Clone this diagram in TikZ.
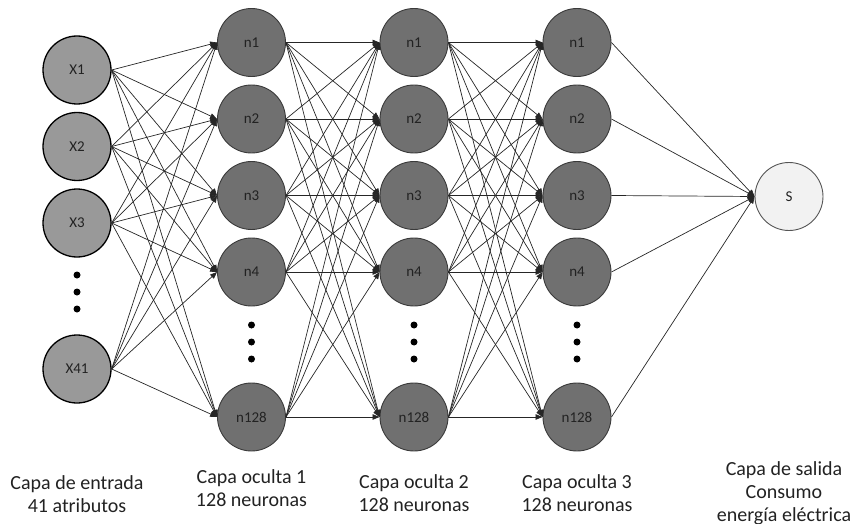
\documentclass[tikz,border=0pt]{standalone}
\usepackage{fontspec}
\setmainfont{Carlito}
\usetikzlibrary{arrows.meta}
\definecolor{inputgray}{HTML}{999999}
\definecolor{hiddengray}{HTML}{707070}
\definecolor{hiddenedge}{HTML}{3A3A3A}
\definecolor{outputgray}{HTML}{F2F2F2}
\definecolor{outputedge}{HTML}{555555}
\definecolor{labelink}{HTML}{222222}
\begin{document}
\begin{tikzpicture}[x=1pt,y=-1pt,
  neuron/.style={circle, minimum size=68pt, inner sep=0pt, text=labelink,
    font=\fontsize{15}{18}\selectfont},
  innode/.style={neuron, fill=inputgray, draw=black, line width=1.3pt},
  hidnode/.style={neuron, fill=hiddengray, draw=hiddenedge, line width=0.9pt},
  outnode/.style={neuron, fill=outputgray, draw=outputedge, line width=0.9pt},
  link/.style={line width=0.7pt, draw=black!85, -{Triangle[length=7pt,width=5.5pt]}},
  ellipsisdot/.style={circle, fill=black, minimum size=7pt, inner sep=0pt},
  caption/.style={align=center, text=labelink, font=\fontsize{20}{23}\selectfont}
]
\useasboundingbox (0,0) rectangle (857,524);

% input layer
\node[innode] (x1)  at (77,70)    {X1};
\node[innode] (x2)  at (77,146.5) {X2};
\node[innode] (x3)  at (77,223)   {X3};
\node[innode] (x41) at (77,369)   {X41};
\foreach \y/\k in {275/a,292/b,309/c}
  \node[ellipsisdot] (xdot\k) at (77,\y) {};

% hidden layers
\foreach \L/\x in {a/251.5,b/414,c/577}{
  \foreach \i/\y in {1/42.5,2/119,3/195.5,4/272,128/417}
    \node[hidnode] (\L\i) at (\x,\y) {n\i};
  \foreach \y/\k in {325/a,342/b,359/c}
    \node[ellipsisdot] (\L dot\k) at (\x,\y) {};
}

% output layer
\node[outnode] (s) at (789,196.5) {S};

% connections
\foreach \src in {x1,x2,x3,x41}
  \foreach \t in {1,2,3,4,128}
    \draw[link] (\src.east) -- (a\t.west);
\foreach \i in {1,2,3,4,128}
  \foreach \t in {1,2,3,4,128}{
    \draw[link] (a\i.east) -- (b\t.west);
    \draw[link] (b\i.east) -- (c\t.west);
  }
\foreach \i in {1,2,3,4,128}
  \draw[link] (c\i.east) -- (s.west);

% layer captions
\node[caption] (capin)  at (77,494)    {Capa de entrada\\41 atributos};
\node[caption] (caph1)  at (251.5,488) {Capa oculta 1\\128 neuronas};
\node[caption] (caph2)  at (414,493.5) {Capa oculta 2\\128 neuronas};
\node[caption] (caph3)  at (577,493.5) {Capa oculta 3\\128 neuronas};
\node[caption] (capout) at (784,493)   {Capa de salida\\Consumo\\energía eléctrica};
\end{tikzpicture}
\end{document}
